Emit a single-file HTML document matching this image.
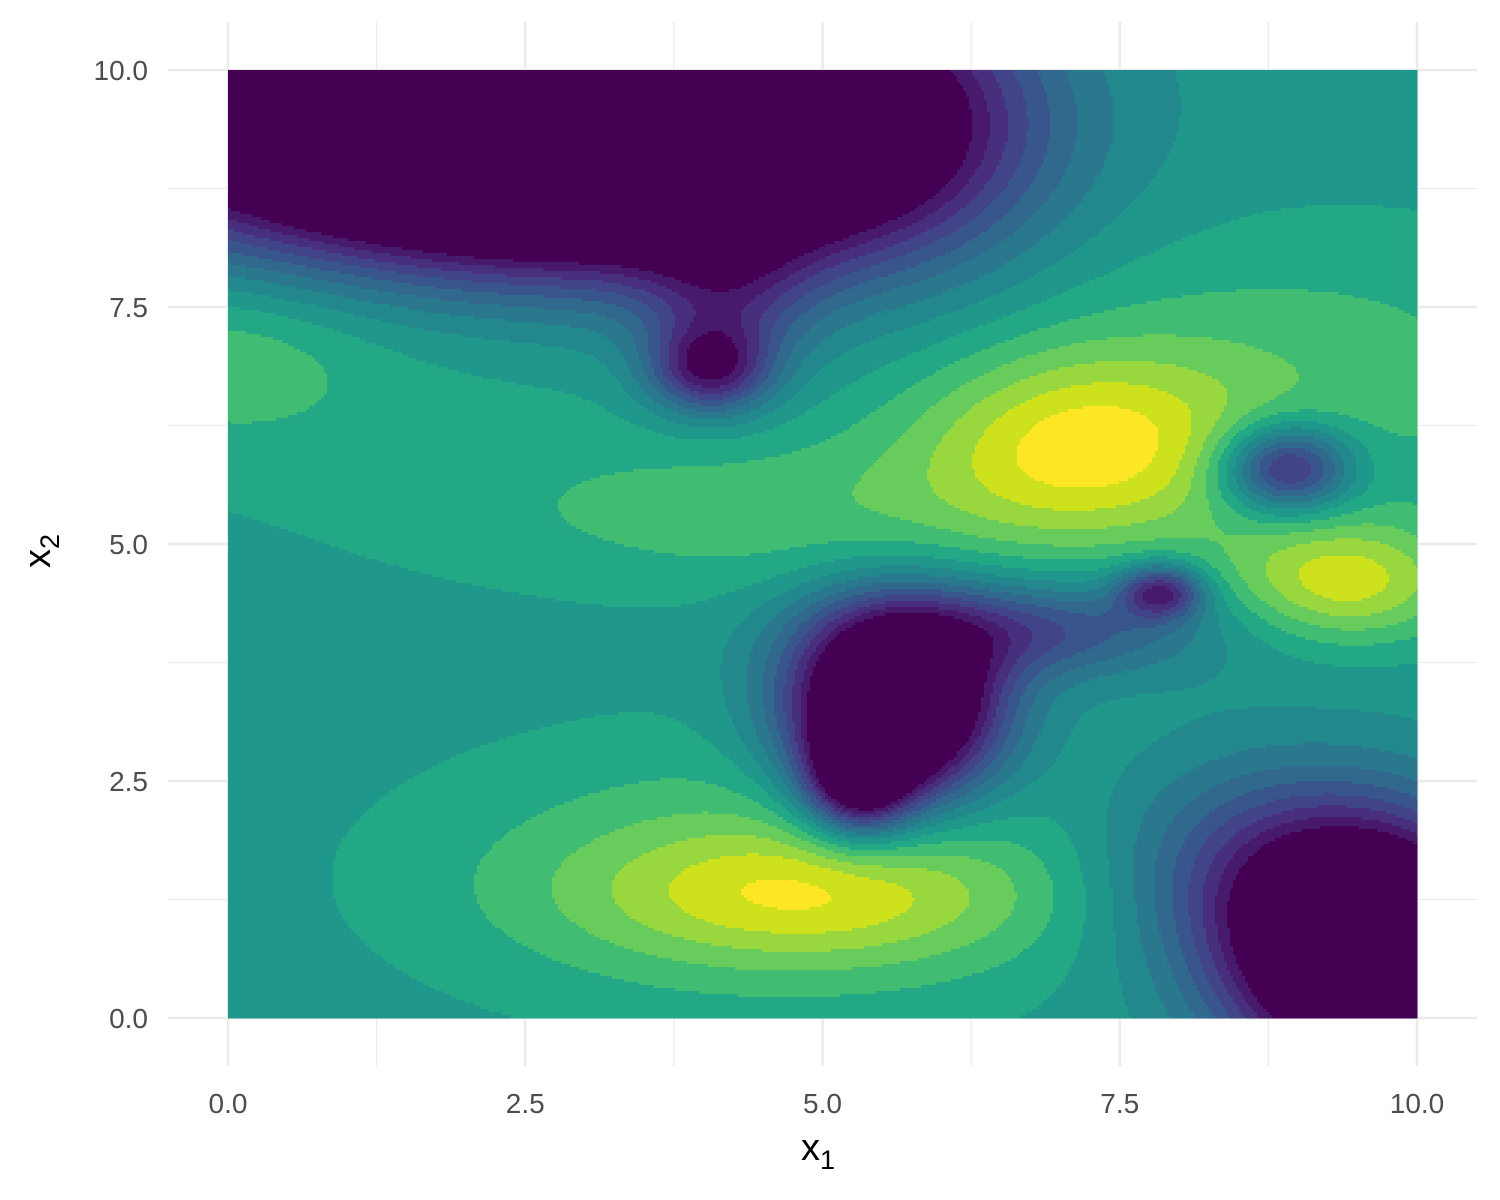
<!DOCTYPE html>
<html><head><meta charset="utf-8">
<style>
html,body{margin:0;padding:0;background:#fff;}
svg{display:block;font-family:"Liberation Sans",sans-serif;}
</style></head>
<body>
<svg id="chart" width="1500" height="1200" viewBox="0 0 1500 1200" xmlns="http://www.w3.org/2000/svg">
<g id="grid"></g>
<g id="field"></g>
<g id="xt"></g>
<g id="yt"></g>
<text x="801" y="1160" font-size="38" fill="#000">x<tspan font-size="27" dy="9">1</tspan></text>
<text transform="translate(50,568) rotate(-90)" font-size="38" fill="#000">x<tspan font-size="27" dy="9">2</tspan></text>
</svg>
<script>
// tick values
const xTicks = [0, 2.5, 5, 7.5, 10];
const yTicks = [0, 2.5, 5, 7.5, 10];
const tickLabels = ["0.0", "2.5", "5.0", "7.5", "10.0"];
// colour levels (viridis bins)
const levelColors = ["#440154","#481A6C","#472F7D","#414487","#39568C","#31688E","#2A788E","#23888E","#1F988B","#22A884","#40BD72","#67CC5C","#98D83E","#CDE11D","#FDE725"];
const baseLevel = 8.5;
// surface bumps: centre x, centre y, amplitude (levels), spread x, spread y
const bumpX   = [1.5, 3.5, 5.6, 4.2, 4.05, 7.2, 4.8, 0.0, 1.0, 5.6, 5.3, 6.8, 7.85, 8.9, 9.4, 4.9, 4.6, 9.6, 8.6, 9.0];
const bumpY   = [9.4, 9.3, 9.6, 7.6, 6.85, 6.05, 5.3, 7.0, 7.0, 3.3, 2.5, 4.1, 4.5, 5.8, 4.6, 1.3, 1.5, 0.7, 1.6, 6.8];
const bumpAmp = [-14, -14, -4, -3.5, -7, 4.9, 2.0, 1.5, 1.0, -16, -8, -4.5, -7, -8, 4.8, 3.2, 2.7, -16, -4, 2.0];
const bumpSX  = [2.0, 1.7, 0.9, 0.5, 0.35, 1.0, 2.0, 0.8, 2.5, 0.6, 0.3, 1.0, 0.25, 0.38, 0.7, 1.3, 2.0, 0.8, 0.9, 1.8];
const bumpSY  = [0.9, 0.95, 1.2, 0.6, 0.33, 0.7, 0.6, 0.6, 1.2, 0.7, 0.4, 0.35, 0.2, 0.32, 0.45, 0.5, 1.0, 0.9, 0.8, 1.1];

const NS = "http://www.w3.org/2000/svg";
const X0 = 228, X1 = 1417, Y0 = 1018, Y1 = 70;
function sx(v){ return X0 + (v/10)*(X1-X0); }
function sy(v){ return Y0 - (v/10)*(Y0-Y1); }
function field(x,y){
  let z = baseLevel;
  for (let i=0;i<bumpX.length;i++){
    const dx=(x-bumpX[i])/bumpSX[i], dy=(y-bumpY[i])/bumpSY[i];
    z += bumpAmp[i]*Math.exp(-0.5*(dx*dx+dy*dy));
  }
  return z;
}
function mk(tag, parent){ const e=document.createElementNS(NS,tag); parent.appendChild(e); return e; }

// grid
const grid = document.getElementById('grid');
for (let k=0;k<=8;k++){
  const v = k*1.25, major = k%2===0;
  const vl = mk('line', grid);
  
  
  vl.setAttribute('x1', sx(v)); vl.setAttribute('x2', sx(v));
  vl.setAttribute('y1', 22); vl.setAttribute('y2', 1066);
  vl.setAttribute('stroke', '#EBEBEB'); vl.setAttribute('stroke-width', major?2.6:1.3);
  const hl = mk('line', grid);
  
  
  hl.setAttribute('y1', sy(v)); hl.setAttribute('y2', sy(v));
  hl.setAttribute('x1', 168); hl.setAttribute('x2', 1477);
  hl.setAttribute('stroke', '#EBEBEB'); hl.setAttribute('stroke-width', major?2.6:1.3);
}

// filled contour field (run-length rows)
const fg = document.getElementById('field');
const step = 3;
const W = X1-X0, H = Y0-Y1;
for (let py=0; py<H; py+=step){
  const yv = 10 - (py+step/2)/H*10;
  let runStart = 0, runIdx = -1;
  const cols = Math.ceil(W/step);
  for (let c=0;c<=cols;c++){
    let idx = -2;
    if (c<cols){
      const xv = (c*step+step/2)/W*10;
      idx = Math.max(0, Math.min(levelColors.length-1, Math.floor(field(xv,yv))));
    }
    if (idx!==runIdx){
      if (runIdx>=0){
        const r = mk('rect', fg);
        
        
        const x0 = X0 + runStart*step, x1 = Math.min(X1, X0 + c*step);
        r.setAttribute('x', x0); r.setAttribute('y', Y1+py);
        r.setAttribute('width', x1-x0+0.5); r.setAttribute('height', Math.min(step, H-py)+0.5);
        r.setAttribute('fill', levelColors[runIdx]);
      }
      runIdx = idx; runStart = c;
    }
  }
}

// tick labels
const xt = document.getElementById('xt'), yt = document.getElementById('yt');
xTicks.forEach((v,i)=>{
  const t = mk('text', xt);
  
  
  t.setAttribute('x', sx(v)); t.setAttribute('y', 1113);
  t.setAttribute('text-anchor','middle'); t.setAttribute('font-size','28'); t.setAttribute('fill','#4D4D4D');
  t.textContent = tickLabels[i];
});
yTicks.forEach((v,i)=>{
  const t = mk('text', yt);
  
  
  t.setAttribute('x', 148); t.setAttribute('y', sy(v)+10);
  t.setAttribute('text-anchor','end'); t.setAttribute('font-size','28'); t.setAttribute('fill','#4D4D4D');
  t.textContent = tickLabels[i];
});
</script>
</body></html>
